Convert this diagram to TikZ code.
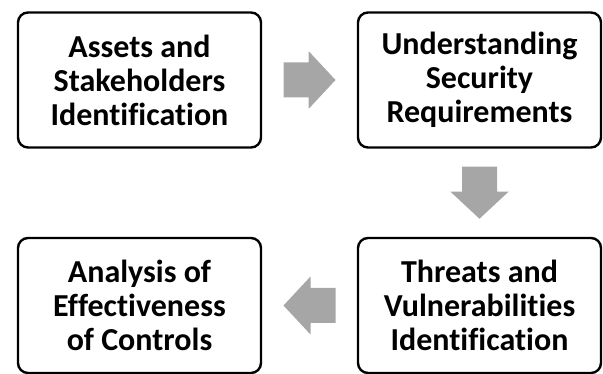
\documentclass[tikz,border=0pt]{standalone}
\usepackage{fontspec}
\setmainfont{Carlito}[Ligatures=NoCommon]
\usetikzlibrary{calc}
\definecolor{arrowgray}{HTML}{A6A6A6}
\tikzset{
	stage/.style={draw=black, line width=2.4pt, rounded corners=10pt, align=center,
		minimum width=243pt, minimum height=135pt, inner sep=0pt,
		font=\fontsize{32}{34}\selectfont\bfseries},
	blockarrow/.pic={
		\fill[arrowgray] (-26,-17.5) -- (-1,-17.5) -- (-1,-29) -- (26,0) -- (-1,29) -- (-1,17.5) -- (-26,17.5) -- cycle;
	}
}

\begin{document}
\begin{tikzpicture}[x=1pt, y=1pt]
		%%%%% START %%%%%
		\useasboundingbox (0,0) rectangle (603,-374);
		
		\node[stage] (assets) at (139.5,-80) {Assets and\\Stakeholders\\Identification};
		\node[stage] (req) at (479.5,-80) {Understanding\\Security\\Requirements};
		\node[stage] (threats) at (479.5,-305.5) {Threats and\\Vulnerabilities\\Identification};
		\node[stage] (analysis) at (139.5,-305.5) {Analysis of\\Effectiveness\\of Controls};
		
		\pic at ($(assets.east)!0.5!(req.west)$) {blockarrow};
		\pic[rotate=-90] at ($(req.south)!0.5!(threats.north)$) {blockarrow};
		\pic[rotate=180] at ($(threats.west)!0.5!(analysis.east)$) {blockarrow};
		%%%%% END %%%%%
	\end{tikzpicture}
\end{document}
